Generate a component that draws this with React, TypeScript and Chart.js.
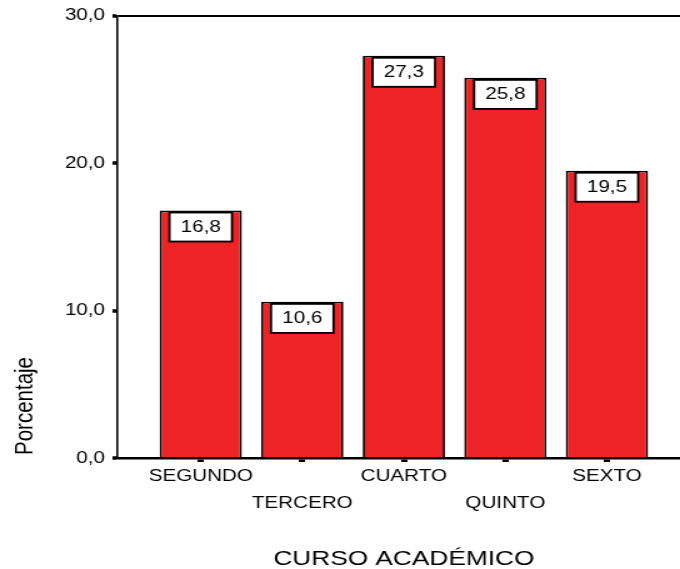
import { useEffect, useRef } from 'react';
import { Chart, registerables } from 'chart.js';

Chart.register(...registerables);

// Data
const cursos = ['SEGUNDO', 'TERCERO', 'CUARTO', 'QUINTO', 'SEXTO'];
const porcentajes = [16.8, 10.6, 27.3, 25.8, 19.5];
const yTickValues = [0, 10, 20, 30];
const tituloX = 'CURSO ACADÉMICO';
const tituloY = 'Porcentaje';

const FONT = "'Liberation Sans', Arial, Helvetica, sans-serif";
const VIEW_W = 680;
const VIEW_H = 569;
const STRETCH = 1.25; // drawing surface is stretched horizontally on screen
const SURFACE_W = Math.round(VIEW_W / STRETCH);

const fmt = (v: number) => v.toFixed(1).replace('.', ',');

// Alternate category labels onto a second line so they don't collide
const tickLabel = (i: number): string | string[] =>
  i % 2 === 1 ? ['', cursos[i]] : cursos[i];

const decorations = {
  id: 'decorations',
  afterDatasetsDraw(chart: any) {
    const ctx = chart.ctx as CanvasRenderingContext2D;
    const meta = chart.getDatasetMeta(0);
    ctx.save();
    meta.data.forEach((bar: any, i: number) => {
      const bw = 50;
      const bh = 29;
      const left = bar.x - bw / 2;
      const top = bar.y + 2.1;
      ctx.fillStyle = '#ffffff';
      ctx.fillRect(left, top, bw, bh);
      ctx.lineWidth = 1.8;
      ctx.strokeStyle = '#000000';
      ctx.strokeRect(left, top, bw, bh);
      ctx.fillStyle = '#000000';
      ctx.font = `16.5px ${FONT}`;
      ctx.textAlign = 'center';
      ctx.textBaseline = 'middle';
      ctx.fillText(fmt(porcentajes[i]), bar.x, top + bh / 2 + 0.5);
    });
    ctx.restore();
  },
  afterDraw(chart: any) {
    const ctx = chart.ctx as CanvasRenderingContext2D;
    const xs = chart.scales.x;
    ctx.save();
    ctx.fillStyle = '#000000';
    ctx.font = `21px ${FONT}`;
    ctx.textAlign = 'center';
    ctx.textBaseline = 'alphabetic';
    const cx = (xs.getPixelForValue(0) + xs.getPixelForValue(cursos.length - 1)) / 2;
    ctx.fillText(tituloX, cx, 565);
    ctx.restore();

    ctx.save();
    ctx.fillStyle = '#000000';
    ctx.font = `20.5px ${FONT}`;
    ctx.textAlign = 'center';
    ctx.textBaseline = 'alphabetic';
    ctx.translate(26.4, 406);
    ctx.rotate(-Math.PI / 2);
    ctx.fillText(tituloY, 0, 0);
    ctx.restore();
  },
};

export default function App() {
  const canvasRef = useRef<HTMLCanvasElement | null>(null);

  useEffect(() => {
    document.body.style.margin = '0';
    const canvas = canvasRef.current;
    if (!canvas) return;

    const chart = new Chart(canvas, {
      type: 'bar',
      data: {
        datasets: [
          {
            data: porcentajes.map((v, i) => ({ x: i, y: v })),
            backgroundColor: '#ee2326',
            borderColor: '#000000',
            borderWidth: 1.8,
            barPercentage: 0.81,
            categoryPercentage: 1,
          },
        ],
      },
      options: {
        responsive: false,
        animation: false,
        devicePixelRatio: 1,
        events: [],
        layout: { padding: { top: 13, left: 0, right: 0, bottom: 0 } },
        plugins: {
          legend: { display: false },
          tooltip: { enabled: false },
          title: { display: false },
        },
        scales: {
          x: {
            type: 'linear',
            offset: false,
            min: -0.82,
            max: 4.72,
            afterBuildTicks: (s: any) => {
              s.ticks = cursos.map((_, i) => ({ value: i }));
            },
            afterFit: (s: any) => {
              s.height = 111;
            },
            grid: {
              display: true,
              offset: false,
              drawOnChartArea: false,
              drawTicks: true,
              tickLength: 4,
              tickWidth: 5,
              tickColor: '#000000',
              color: '#000000',
            },
            border: { display: true, color: '#000000', width: 2.5 },
            ticks: {
              autoSkip: false,
              maxRotation: 0,
              minRotation: 0,
              padding: 1,
              color: '#000000',
              font: { family: FONT, size: 16.5, lineHeight: 1.64 },
              callback: (v: any) => tickLabel(Math.round(Number(v))),
            },
          },
          y: {
            min: 0,
            max: 30,
            afterBuildTicks: (s: any) => {
              s.ticks = yTickValues.map((v) => ({ value: v }));
            },
            afterFit: (s: any) => {
              s.width = 94;
            },
            grid: {
              drawOnChartArea: true,
              color: (c: any) =>
                c.tick && c.tick.value === yTickValues[yTickValues.length - 1]
                  ? '#000000'
                  : 'rgba(0,0,0,0)',
              lineWidth: 2,
              drawTicks: true,
              tickLength: 4,
              tickWidth: 3.5,
              tickColor: '#000000',
            },
            border: { display: true, color: '#000000', width: 1.6 },
            ticks: {
              padding: 6,
              color: '#000000',
              font: { family: FONT, size: 16.5 },
              callback: (v: any) => fmt(Number(v)),
            },
          },
        },
      },
      plugins: [decorations],
    } as any);

    return () => chart.destroy();
  }, []);

  return (
    <div style={{ width: VIEW_W, height: VIEW_H, background: '#ffffff' }}>
      <canvas
        ref={canvasRef}
        width={SURFACE_W}
        height={VIEW_H}
        style={{ width: VIEW_W, height: VIEW_H, display: 'block' }}
      />
    </div>
  );
}
